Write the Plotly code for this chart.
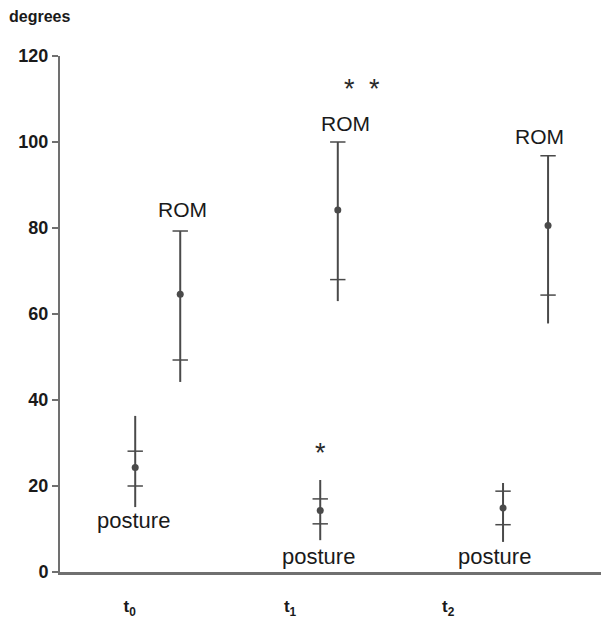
import plotly.graph_objects as go

# --- data ---
timepoints = ["t<sub>0</sub>", "t<sub>1</sub>", "t<sub>2</sub>"]
label_x = [1.27, 4.19, 7.07]

posture_x = [1.37, 4.74, 8.07]
posture_mean = [24.3, 14.3, 14.9]
posture_sd_low = [20.0, 11.2, 11.0]
posture_sd_high = [28.1, 17.0, 18.8]
posture_min = [15.1, 7.4, 7.0]
posture_max = [36.3, 21.4, 20.7]

rom_x = [2.19, 5.06, 8.89]
rom_mean = [64.6, 84.2, 80.6]
rom_sd_low = [49.3, 68.0, 64.4]
rom_sd_high = [79.3, 100.0, 96.8]
rom_min = [44.2, 63.0, 57.8]
rom_max = [79.3, 100.0, 96.8]

yticks = [0, 20, 40, 60, 80, 100, 120]

LINE = "#4a4a4a"
AXIS = "#707070"
FONT = "Liberation Sans, Arial, sans-serif"

fig = go.Figure()

def add_series(xs, mean, lo, hi, mn, mx):
    fig.add_trace(go.Scatter(
        x=xs, y=mean, mode="markers",
        marker=dict(color=LINE, size=7, symbol="circle"),
        error_y=dict(type="data", symmetric=False,
                     array=[a - b for a, b in zip(mx, mean)],
                     arrayminus=[b - a for a, b in zip(mn, mean)],
                     color=LINE, thickness=2, width=0),
        showlegend=False, hoverinfo="skip"))
    fig.add_trace(go.Scatter(
        x=xs + xs, y=lo + hi, mode="markers",
        marker=dict(symbol="line-ew", size=11, color=LINE,
                    line=dict(color=LINE, width=1.5)),
        showlegend=False, hoverinfo="skip"))

add_series(posture_x, posture_mean, posture_sd_low, posture_sd_high, posture_min, posture_max)
add_series(rom_x, rom_mean, rom_sd_low, rom_sd_high, rom_min, rom_max)

rom_label_pos = [(2.23, 84.4), (5.2, 104.2), (8.74, 101.2)]
posture_label_pos = [(1.33, 12.0), (4.7, 3.7), (7.92, 3.7)]
star_pos = [(4.74, 27.7), (5.27, 112.4), (5.73, 112.4)]
annots = []
for (x, y) in rom_label_pos:
    annots.append(dict(x=x, y=y, text="ROM", showarrow=False,
                       font=dict(family=FONT, size=21, color="#1a1a1a")))
for (x, y) in posture_label_pos:
    annots.append(dict(x=x, y=y, text="posture", showarrow=False,
                       font=dict(family=FONT, size=22, color="#1a1a1a")))
for (x, y) in star_pos:
    annots.append(dict(x=x, y=y, text="*", showarrow=False,
                       font=dict(family=FONT, size=27, color="#2a2a2a")))
annots.append(dict(x=0, y=1, xref="paper", yref="paper", xanchor="left", yanchor="bottom",
                   xshift=-53, yshift=29, text="<b>degrees</b>", showarrow=False,
                   font=dict(family=FONT, size=16, color="#1a1a1a")))

fig.update_layout(
    width=601, height=612,
    margin=dict(l=52, r=0, t=48, b=48),
    plot_bgcolor="white", paper_bgcolor="white",
    annotations=annots,
    font=dict(family=FONT),
    xaxis=dict(range=[0, 10], showgrid=False, zeroline=False, automargin=False,
               showline=True, linecolor=AXIS, linewidth=2.5,
               tickmode="array", tickvals=label_x,
               ticktext=["<b>" + t + "</b>" for t in timepoints],
               ticks="", ticklabelstandoff=17,
               tickfont=dict(family=FONT, size=17, color="#1a1a1a")),
    yaxis=dict(range=[0, 120], showgrid=False, zeroline=False, automargin=False,
               showline=True, linecolor=AXIS, linewidth=2,
               tickmode="array", tickvals=yticks,
               ticktext=["<b>%d</b>" % v for v in yticks],
               ticks="outside", ticklen=6, tickwidth=1.5, tickcolor=AXIS,
               tickfont=dict(family=FONT, size=18, color="#1a1a1a")),
)

fig.write_html("out.html")
